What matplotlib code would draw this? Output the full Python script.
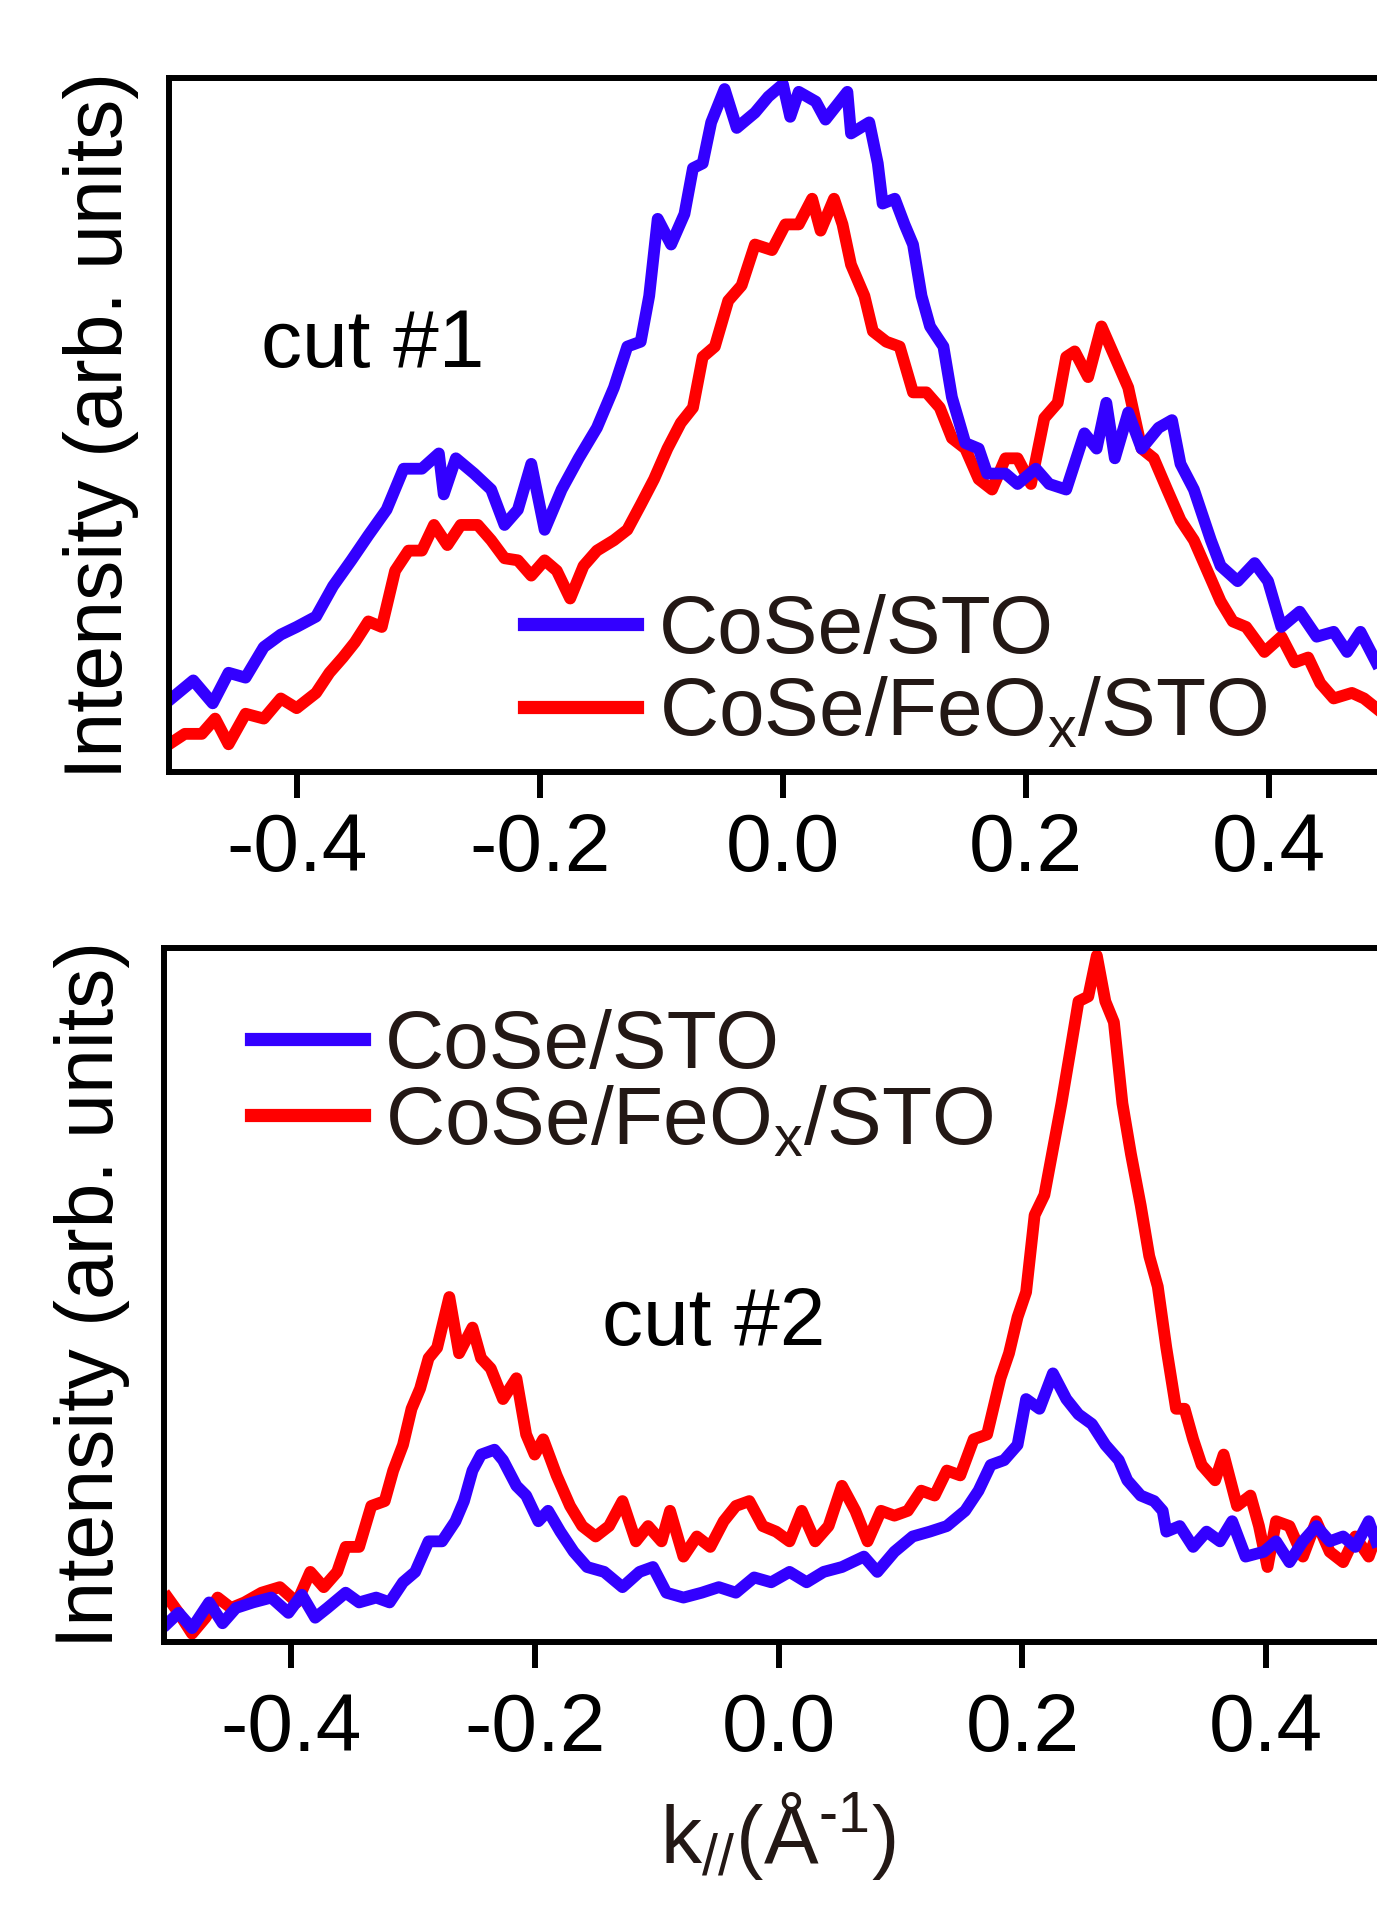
import matplotlib.pyplot as plt

plt.rcParams['font.family'] = ['Liberation Sans', 'DejaVu Sans']
plt.rcParams['mathtext.fontset'] = 'custom'
plt.rcParams['mathtext.rm'] = 'Liberation Sans'
plt.rcParams['mathtext.it'] = 'Liberation Sans'
plt.rcParams['axes.unicode_minus'] = False

BLUE = '#3300ff'
RED = '#ff0000'
TXT = '#231815'

xticks = [-0.4, -0.2, 0.0, 0.2, 0.4]
xtick_labels = ['-0.4', '-0.2', '0.0', '0.2', '0.4']
labels = ['CoSe/STO', 'CoSe/FeO$_\\mathregular{x}$/STO']

# cut #1 (intensity scaled 0..1 to the frame)
blue1_k = [-0.505, -0.485, -0.469, -0.456, -0.442, -0.427, -0.413, -0.4, -0.384, -0.37,
           -0.355, -0.341, -0.326, -0.312, -0.297, -0.283, -0.279, -0.269, -0.254, -0.24,
           -0.229, -0.218, -0.207, -0.196, -0.182, -0.168, -0.153, -0.139, -0.128, -0.117,
           -0.11, -0.103, -0.092, -0.081, -0.074, -0.066, -0.059, -0.048, -0.038, -0.023,
           -0.012, 0.0, 0.006, 0.013, 0.027, 0.035, 0.053, 0.056, 0.071, 0.078,
           0.082, 0.092, 0.1, 0.107, 0.114, 0.121, 0.132, 0.139, 0.15, 0.161,
           0.168, 0.183, 0.193, 0.208, 0.219, 0.233, 0.248, 0.258, 0.266, 0.273,
           0.284, 0.295, 0.309, 0.32, 0.327, 0.338, 0.352, 0.36, 0.374, 0.388,
           0.399, 0.41, 0.425, 0.439, 0.453, 0.464, 0.475, 0.488]
blue1_I = [0.103, 0.132, 0.099, 0.143, 0.136, 0.18, 0.198, 0.209, 0.224, 0.268,
           0.305, 0.341, 0.378, 0.437, 0.437, 0.459, 0.40, 0.452, 0.43, 0.407,
           0.356, 0.378, 0.444, 0.349, 0.407, 0.452, 0.496, 0.554, 0.613, 0.62,
           0.686, 0.797, 0.76, 0.804, 0.87, 0.877, 0.936, 0.984, 0.928, 0.95,
           0.973, 0.991, 0.944, 0.98, 0.966, 0.94, 0.98, 0.92, 0.936, 0.877,
           0.819, 0.826, 0.789, 0.76, 0.686, 0.642, 0.613, 0.54, 0.474, 0.466,
           0.43, 0.43, 0.415, 0.437, 0.415, 0.407, 0.488, 0.466, 0.532, 0.452,
           0.518, 0.466, 0.496, 0.507, 0.444, 0.407, 0.334, 0.297, 0.275, 0.301,
           0.275, 0.209, 0.231, 0.195, 0.202, 0.173, 0.202, 0.158]

red1_k = [-0.505, -0.492, -0.478, -0.467, -0.456, -0.442, -0.427, -0.413, -0.4, -0.384,
          -0.373, -0.362, -0.352, -0.341, -0.33, -0.319, -0.308, -0.297, -0.287, -0.276,
          -0.265, -0.251, -0.24, -0.229, -0.218, -0.207, -0.196, -0.186, -0.175, -0.164,
          -0.153, -0.139, -0.128, -0.117, -0.106, -0.095, -0.084, -0.074, -0.066, -0.056,
          -0.045, -0.034, -0.023, -0.009, 0.002, 0.013, 0.024, 0.031, 0.042, 0.049,
          0.056, 0.067, 0.074, 0.085, 0.096, 0.107, 0.118, 0.129, 0.139, 0.15,
          0.161, 0.172, 0.183, 0.193, 0.204, 0.215, 0.226, 0.233, 0.24, 0.251,
          0.262, 0.273, 0.284, 0.295, 0.305, 0.316, 0.327, 0.338, 0.349, 0.36,
          0.37, 0.381, 0.396, 0.41, 0.421, 0.432, 0.442, 0.453, 0.468, 0.478, 0.488]
red1_I = [0.04, 0.055, 0.055, 0.077, 0.04, 0.084, 0.077, 0.106, 0.092, 0.114,
          0.143, 0.165, 0.187, 0.217, 0.209, 0.29, 0.319, 0.319, 0.356, 0.327,
          0.356, 0.356, 0.334, 0.308, 0.305, 0.283, 0.305, 0.29, 0.25, 0.297,
          0.319, 0.334, 0.349, 0.385, 0.422, 0.466, 0.503, 0.525, 0.598, 0.613,
          0.679, 0.701, 0.76, 0.752, 0.789, 0.789, 0.826, 0.78, 0.826, 0.789,
          0.731, 0.686, 0.635, 0.62, 0.613, 0.547, 0.547, 0.525, 0.481, 0.466,
          0.422, 0.407, 0.452, 0.452, 0.415, 0.51, 0.532, 0.598, 0.606, 0.569,
          0.642, 0.598, 0.554, 0.466, 0.452, 0.407, 0.363, 0.334, 0.29, 0.246,
          0.217, 0.209, 0.173, 0.195, 0.158, 0.165, 0.128, 0.106, 0.114, 0.106, 0.092]

# cut #2
blue2_k = [-0.501, -0.492, -0.481, -0.467, -0.456, -0.445, -0.431, -0.416, -0.402, -0.391,
           -0.38, -0.37, -0.355, -0.344, -0.33, -0.319, -0.308, -0.298, -0.287, -0.276,
           -0.265, -0.258, -0.251, -0.244, -0.233, -0.226, -0.215, -0.207, -0.197, -0.189,
           -0.179, -0.168, -0.157, -0.143, -0.128, -0.114, -0.103, -0.092, -0.078, -0.063,
           -0.049, -0.035, -0.02, -0.006, 0.009, 0.023, 0.037, 0.052, 0.07, 0.081,
           0.095, 0.11, 0.124, 0.138, 0.153, 0.164, 0.174, 0.185, 0.196, 0.203,
           0.214, 0.225, 0.236, 0.246, 0.257, 0.268, 0.279, 0.286, 0.297, 0.308,
           0.315, 0.318, 0.329, 0.34, 0.351, 0.362, 0.372, 0.383, 0.398, 0.408,
           0.419, 0.43, 0.441, 0.452, 0.463, 0.473, 0.484, 0.49]
blue2_I = [0.027, 0.042, 0.02, 0.057, 0.027, 0.049, 0.057, 0.064, 0.042, 0.068,
           0.035, 0.049, 0.071, 0.057, 0.064, 0.057, 0.086, 0.101, 0.145, 0.145,
           0.174, 0.203, 0.247, 0.27, 0.277, 0.262, 0.225, 0.211, 0.174, 0.189,
           0.159, 0.13, 0.108, 0.101, 0.079, 0.101, 0.108, 0.071, 0.064, 0.071,
           0.079, 0.071, 0.093, 0.086, 0.101, 0.086, 0.101, 0.108, 0.123, 0.101,
           0.13, 0.152, 0.159, 0.167, 0.189, 0.218, 0.255, 0.262, 0.284, 0.35,
           0.336, 0.387, 0.35, 0.328, 0.314, 0.284, 0.262, 0.233, 0.211, 0.203,
           0.189, 0.159, 0.167, 0.137, 0.159, 0.145, 0.174, 0.123, 0.13, 0.145,
           0.115, 0.145, 0.167, 0.145, 0.152, 0.137, 0.174, 0.145]

red2_k = [-0.501, -0.492, -0.481, -0.47, -0.46, -0.449, -0.438, -0.424, -0.409, -0.395,
          -0.384, -0.373, -0.362, -0.355, -0.344, -0.334, -0.323, -0.316, -0.308, -0.301,
          -0.294, -0.287, -0.28, -0.27, -0.262, -0.251, -0.244, -0.236, -0.226, -0.215,
          -0.207, -0.2, -0.193, -0.182, -0.171, -0.161, -0.15, -0.139, -0.128, -0.117,
          -0.107, -0.096, -0.089, -0.078, -0.067, -0.056, -0.045, -0.035, -0.024, -0.013,
          -0.002, 0.009, 0.019, 0.03, 0.041, 0.052, 0.063, 0.073, 0.084, 0.095,
          0.106, 0.117, 0.128, 0.138, 0.149, 0.16, 0.171, 0.182, 0.189, 0.196,
          0.203, 0.21, 0.218, 0.225, 0.232, 0.239, 0.246, 0.254, 0.261, 0.268,
          0.275, 0.282, 0.289, 0.297, 0.304, 0.311, 0.318, 0.326, 0.333, 0.34,
          0.347, 0.358, 0.365, 0.376, 0.387, 0.394, 0.401, 0.408, 0.419, 0.43,
          0.441, 0.452, 0.463, 0.473, 0.484, 0.49]
red2_I = [0.064, 0.042, 0.012, 0.035, 0.064, 0.049, 0.057, 0.071, 0.079, 0.057,
          0.101, 0.079, 0.101, 0.137, 0.137, 0.196, 0.203, 0.247, 0.284, 0.336,
          0.365, 0.409, 0.424, 0.497, 0.416, 0.453, 0.409, 0.394, 0.35, 0.38,
          0.299, 0.27, 0.292, 0.24, 0.196, 0.167, 0.152, 0.167, 0.203, 0.145,
          0.167, 0.145, 0.189, 0.123, 0.152, 0.137, 0.174, 0.196, 0.203, 0.167,
          0.159, 0.145, 0.189, 0.145, 0.167, 0.225, 0.189, 0.145, 0.189, 0.182,
          0.189, 0.218, 0.211, 0.247, 0.24, 0.292, 0.299, 0.38, 0.416, 0.468,
          0.504, 0.615, 0.644, 0.71, 0.776, 0.849, 0.923, 0.93, 0.989, 0.923,
          0.893, 0.776, 0.703, 0.629, 0.556, 0.512, 0.424, 0.336, 0.336, 0.292,
          0.255, 0.233, 0.27, 0.196, 0.211, 0.167, 0.108, 0.174, 0.167, 0.123,
          0.174, 0.13, 0.115, 0.152, 0.123, 0.152]

FS = 59
LW = 8.5

fig = plt.figure(figsize=(13.77, 19.2), dpi=100)
ax1 = fig.add_axes([0.1227, 0.5979, 0.905, 0.3615])
ax2 = fig.add_axes([0.1191, 0.1448, 0.905, 0.3615])


def style(ax, xlim, pad):
    ax.set_xlim(*xlim)
    ax.set_ylim(0, 1)
    ax.set_xticks(xticks)
    ax.set_xticklabels(xtick_labels)
    ax.set_yticks([])
    ax.tick_params(axis='x', direction='out', length=19, width=4.3,
                   labelsize=FS, pad=pad, colors='black')
    for s in ['left', 'top', 'bottom']:
        ax.spines[s].set_linewidth(4.3)
    ax.spines['right'].set_visible(False)


# top panel
ax1.plot(red1_k, red1_I, color=RED, lw=LW, label=labels[1])
ax1.plot(blue1_k, blue1_I, color=BLUE, lw=LW, label=labels[0])
style(ax1, (-0.505, 0.52), 10)
h, l = ax1.get_legend_handles_labels()
leg1 = ax1.legend(h[::-1], l[::-1], frameon=False, loc='upper left',
                  bbox_to_anchor=(0.285, 0.257), borderpad=0, borderaxespad=0,
                  handlelength=1.38, handletextpad=0.26, labelspacing=0.08,
                  fontsize=FS, labelcolor=TXT)
for lh in leg1.legend_handles:
    lh.set_linewidth(9.5)
ax1.text(0.0738, 0.614, 'cut #1', transform=ax1.transAxes, fontsize=FS,
         va='center', ha='left', color='black')

# bottom panel
ax2.plot(red2_k, red2_I, color=RED, lw=LW, label=labels[1])
ax2.plot(blue2_k, blue2_I, color=BLUE, lw=LW, label=labels[0])
style(ax2, (-0.504, 0.518), 17)
h, l = ax2.get_legend_handles_labels()
leg2 = ax2.legend(h[::-1], l[::-1], frameon=False, loc='upper left',
                  bbox_to_anchor=(0.0698, 0.912), borderpad=0, borderaxespad=0,
                  handlelength=1.38, handletextpad=0.26, labelspacing=0.0,
                  fontsize=FS, labelcolor=TXT)
for lh in leg2.legend_handles:
    lh.set_linewidth(9.5)
ax2.text(0.3515, 0.458, 'cut #2', transform=ax2.transAxes, fontsize=FS,
         va='center', ha='left', color='black')

# y labels
fig.text(101 / 1377, 1 - 425 / 1920, 'Intensity (arb. units)', rotation=90,
         ha='center', va='center', fontsize=58, color='black')
fig.text(92 / 1377, 1 - 1294 / 1920, 'Intensity (arb. units)', rotation=90,
         ha='center', va='center', fontsize=58, color='black')

# x label
fig.text(778 / 1377, 1 - 1863 / 1920,
         'k$_{\\mathregular{//}}$(Å$^{\\mathregular{\u2010}1}$)',
         ha='center', va='baseline', fontsize=FS, color=TXT)

fig.savefig('out.png', dpi=100)
